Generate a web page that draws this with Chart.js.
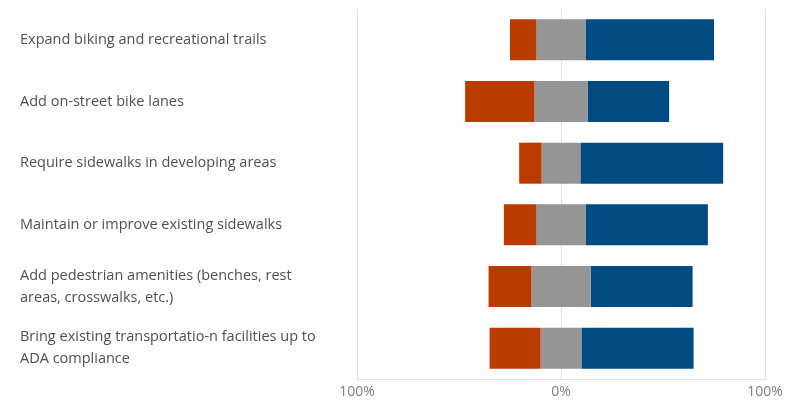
<!DOCTYPE html>
<html>
<head>
<meta charset="utf-8">
<script src="https://cdn.jsdelivr.net/npm/chart.js@4/dist/chart.umd.min.js"></script>
<style>
  html, body { margin: 0; padding: 0; background: #ffffff; }
  #wrap { width: 792px; height: 401px; }
</style>
</head>
<body>
<div id="wrap"><canvas id="chart" width="792" height="401"></canvas></div>
<script>
// Survey items (wrapped where the label runs to two lines)
const categories = [
  ['Expand biking and recreational trails'],
  ['Add on-street bike lanes'],
  ['Require sidewalks in developing areas'],
  ['Maintain or improve existing sidewalks'],
  ['Add pedestrian amenities (benches, rest', 'areas, crosswalks, etc.)'],
  ['Bring existing transportatio-n facilities up to', 'ADA compliance']
];

// Share of responses, in percent
const oppose  = [13, 34, 11, 16, 21, 25];
const neutral = [24, 26, 19, 24, 29, 20];
const support = [63, 40, 70, 60, 50, 55];

// Axis ticks
const tickValues = [-100, 0, 100];

// Diverging layout: neutral is centred on zero, oppose extends left, support right
const neutralBars = neutral.map(n => [-n / 2, n / 2]);
const opposeBars  = oppose.map((o, i) => [-neutral[i] / 2 - o, -neutral[i] / 2]);
const supportBars = support.map((s, i) => [neutral[i] / 2, neutral[i] / 2 + s]);

const FONT = '"Open Sans", "Noto Sans", sans-serif';

new Chart(document.getElementById('chart'), {
  type: 'bar',
  data: {
    labels: categories,
    datasets: [
      { label: 'Oppose',  data: opposeBars,  backgroundColor: '#BA3B00' },
      { label: 'Neutral', data: neutralBars, backgroundColor: '#959595' },
      { label: 'Support', data: supportBars, backgroundColor: '#014A82' }
    ]
  },
  options: {
    indexAxis: 'y',
    responsive: false,
    animation: false,
    layout: { padding: { left: 20, top: 9, right: 27, bottom: 0 } },
    datasets: {
      bar: {
        grouped: false,
        categoryPercentage: 1,
        barPercentage: 0.665,
        borderWidth: 0
      }
    },
    plugins: {
      legend: { display: false },
      tooltip: { enabled: false }
    },
    scales: {
      x: {
        min: -100,
        max: 100,
        afterBuildTicks: (scale) => { scale.ticks = tickValues.map(v => ({ value: v })); },
        afterFit: (scale) => { scale.height = 22; scale.paddingLeft = 0; scale.paddingRight = 0; },
        grid: { color: '#e3e3e3', lineWidth: 1, drawTicks: false },
        border: { display: true, color: '#e3e3e3', width: 1 },
        ticks: {
          padding: 5,
          color: '#808080',
          font: { family: FONT, size: 14 },
          callback: (v) => Math.abs(v) + '%'
        }
      },
      y: {
        afterFit: (scale) => { scale.width = 337; scale.paddingTop = 0; scale.paddingBottom = 0; },
        grid: { display: false, drawTicks: false },
        border: { display: false },
        ticks: {
          crossAlign: 'far',
          color: '#505050',
          font: { family: FONT, size: 14.5, lineHeight: 1.5 }
        }
      }
    }
  }
});
</script>
</body>
</html>
